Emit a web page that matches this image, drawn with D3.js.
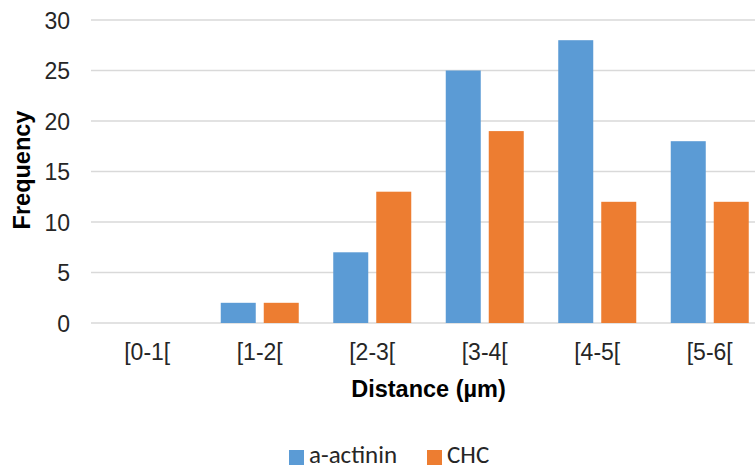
<!DOCTYPE html>
<html><head><meta charset="utf-8">
<script src="https://cdn.jsdelivr.net/npm/d3@7"></script>
<style>body{margin:0;background:#fff}svg{display:block}</style>
</head><body><svg id="c" width="755" height="470"></svg>
<script>
const categories = ["[0-1[","[1-2[","[2-3[","[3-4[","[4-5[","[5-6["];
const seriesNames = ["a-actinin","CHC"];
const actinin = [0,2,7,25,28,18];
const chc = [0,2,13,19,12,12];
const yTicks = [0,5,10,15,20,25,30];
const colors = ["#5B9BD5","#ED7D31"];

(function(){
const svg = d3.select("#c");
const pL = 91, pR = 766, pT = 20, pB = 323;
const x = d3.scaleBand().domain(categories).range([pL,pR]).paddingInner(0).paddingOuter(0);
const x1 = d3.scaleBand().domain(seriesNames).range([0,78]).paddingInner(8/43).paddingOuter(0);
const y = d3.scaleLinear().domain([0,30]).range([pB,pT]);
const font = "Liberation Sans, Arial, Helvetica, sans-serif";

// grid
svg.append("g").selectAll("line").data(yTicks).join("line")
  .attr("x1",pL).attr("x2",755).attr("y1",d=>y(d)).attr("y2",d=>y(d))
  .attr("stroke","#D9D9D9").attr("stroke-width",1.5);

// y labels
const yAxis = d3.axisLeft(y).tickValues(yTicks).tickSize(0).tickPadding(21);
const gy = svg.append("g").attr("transform",`translate(${pL},0)`).call(yAxis);
gy.select(".domain").remove();
gy.selectAll("text").attr("font-family",font).attr("font-size",23).attr("dy","0.36em").attr("fill","#262626");

// bars
const data = categories.map((c,i)=>({c, vals:[actinin[i],chc[i]]}));
const g = svg.append("g");
data.forEach(d=>{
  const gx = x(d.c) + (x.bandwidth()-78)/2;
  g.selectAll(null).data(d.vals.map((v,j)=>({v,s:seriesNames[j],j}))).join("rect")
   .attr("x",e=>gx + x1(e.s)).attr("width",x1.bandwidth())
   .attr("y",e=>y(e.v)).attr("height",e=>pB-y(e.v))
   .attr("fill",e=>colors[e.j]);
});

// x labels
const xAxis = d3.axisBottom(x).tickSize(0).tickPadding(21);
const gxa = svg.append("g").attr("transform",`translate(0,${pB})`).call(xAxis);
gxa.select(".domain").remove();
gxa.selectAll("text").attr("font-family",font).attr("font-size",23).attr("fill","#262626");

// titles
svg.append("text").attr("x",428.5).attr("y",397).attr("text-anchor","middle")
  .attr("font-family",font).attr("font-size",23.5).attr("font-weight","bold").attr("fill","#000").text("Distance (µm)");
svg.append("text").attr("transform","translate(30,170) rotate(-90)").attr("text-anchor","middle")
  .attr("font-family",font).attr("font-size",23.5).attr("font-weight","bold").attr("fill","#000").text("Frequency");

// legend
const lg = svg.append("g");
const legX = [289, 427];
seriesNames.forEach((s,i)=>{
  lg.append("rect").attr("x",legX[i]).attr("y",450).attr("width",15).attr("height",15).attr("fill",colors[i]);
  lg.append("text").attr("x",legX[i]+20).attr("y",463).attr("font-family","Carlito, Lato, 'Open Sans', sans-serif")
    .attr("font-size",25).attr("fill","#262626").text(s);
});
})();
</script></body></html>
